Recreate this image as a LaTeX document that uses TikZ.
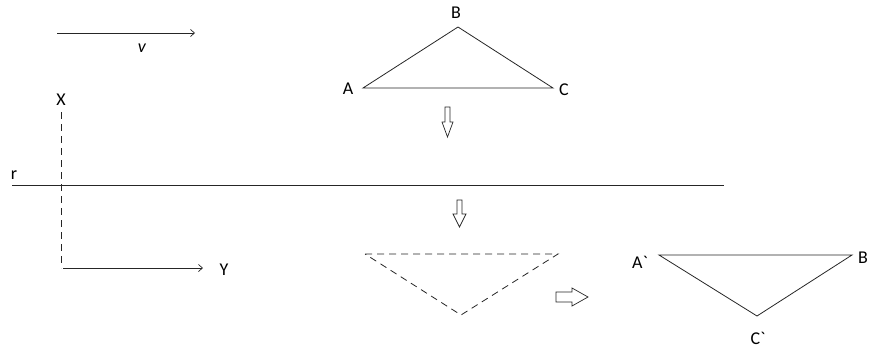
\documentclass[tikz,border=0pt]{standalone}
\usepackage{fontspec}
\setmainfont{Carlito}
\usetikzlibrary{arrows.meta}
\begin{document}
\begin{tikzpicture}[x=1pt,y=-1pt,
  lbl/.style={font=\fontsize{18}{21}\selectfont, inner sep=0pt},
  ln/.style={line width=0.8pt, draw=black!85},
  dsh/.style={ln, dash pattern=on 7pt off 5pt},
  tipline/.style={ln, -{Straight Barb[length=4pt,width=7pt,line width=0.7pt]}},
  hollow/.style={line width=0.7pt, draw=black!85, fill=white}]
\useasboundingbox (0,0) rectangle (871,351);
% v arrow
\coordinate (v1) at (57,33); \coordinate (v2) at (195,33);
\draw[tipline] (v1) -- (v2);
\node[lbl] (vl) at (142,48) {\itshape v};
% X-Y axes
\node[lbl] (xl) at (61,100) {X};
\coordinate (x1) at (61,112); \coordinate (x2) at (61,268);
\draw[dsh] (x1) -- (x2);
\coordinate (y1) at (63,268); \coordinate (y2) at (203,268);
\draw[tipline] (y1) -- (y2);
\node[lbl] (yl) at (224,270) {Y};
% line r
\node[lbl] (rl) at (14,175) {r};
\coordinate (r1) at (12,185); \coordinate (r2) at (724,185);
\draw[ln] (r1) -- (r2);
% triangle ABC
\coordinate (A) at (363,88); \coordinate (B) at (458,27); \coordinate (C) at (553,88);
\draw[ln] (A) -- (B) -- (C) -- cycle;
\node[lbl] (al) at (348,89) {A};
\node[lbl] (bl) at (456,13) {B};
\node[lbl] (cl) at (564,90) {C};
% hollow down arrow 1
\draw[hollow] (445,107) -- (450,107) -- (450,122) -- (453,122) -- (447.5,137) -- (442,122) -- (445,122) -- cycle;
% hollow down arrow 2
\draw[hollow] (457,200) -- (462,200) -- (462,214) -- (466,214) -- (459.5,227) -- (453,214) -- (457,214) -- cycle;
% dashed triangle
\coordinate (D1) at (365,254); \coordinate (D2) at (558,254); \coordinate (D3) at (461,315);
\draw[dsh] (D1) -- (D2) -- (D3) -- cycle;
% hollow right arrow
\draw[hollow] (556,292) -- (572,292) -- (572,288) -- (588,297) -- (572,306) -- (572,302) -- (556,302) -- cycle;
% triangle A'B'C'
\coordinate (Ap) at (659,255); \coordinate (Bp) at (852,255); \coordinate (Cp) at (757,316);
\draw[ln] (Ap) -- (Bp) -- (Cp) -- cycle;
\node[lbl] (apl) at (640,262) {A\textasciigrave};
\node[lbl] (bpl) at (863,258) {B};
\node[lbl] (cpl) at (758,338) {C\textasciigrave};
\end{tikzpicture}
\end{document}
